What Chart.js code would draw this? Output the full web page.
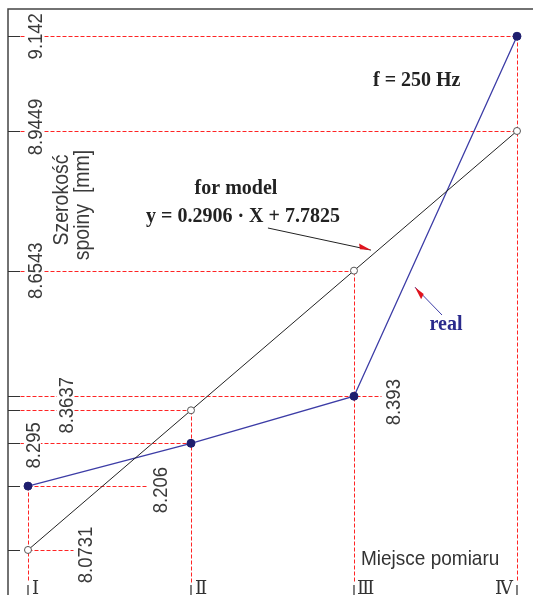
<!DOCTYPE html>
<html>
<head>
<meta charset="utf-8">
<script src="https://cdn.jsdelivr.net/npm/chart.js@4.4.0/dist/chart.umd.min.js"></script>
<style>
  html, body { margin: 0; padding: 0; background: #fff; }
  #wrap { width: 533px; height: 595px; position: relative; }
</style>
</head>
<body>
<div id="wrap"><canvas id="chart" width="533" height="595"></canvas></div>
<script>
// Weld width at four measuring places, f = 250 Hz: real vs model

var categories = ['\u2160', '\u2161', '\u2162', '\u2163'];   // I..IV
var places = [1, 2, 3, 4];
var realValues = [8.206, 8.295, 8.393, 9.142];
var modelValues = [8.0731, 8.3637, 8.6543, 8.9449];
var realLabels = ['8.206', '8.295', '8.393', '9.142'];
var modelLabels = ['8.0731', '8.3637', '8.6543', '8.9449'];

var RED = '#ff2424';
var INK = '#3a3a3a';
var BLUE = '#3c3ca6';
var NAVY = '#1e1e6e';

function pts(vals) {
  return vals.map(function (v, i) { return { x: places[i], y: v }; });
}

// rotated (-90deg) text, baseline at bx, centred on cy
function rotText(ctx, text, bx, cy, size, opts) {
  opts = opts || {};
  var sy = opts.stretch || 1.12;
  ctx.save();
  ctx.translate(bx, cy);
  ctx.rotate(-Math.PI / 2);
  ctx.scale(1, sy);
  ctx.font = size + 'px "Liberation Sans", Arial, sans-serif';
  ctx.textAlign = 'center';
  ctx.textBaseline = 'alphabetic';
  var w = ctx.measureText(text).width;
  if (opts.bg) {
    ctx.fillStyle = '#fff';
    ctx.fillRect(-w / 2 - 2, -size * 0.78, w + 4, size * 0.82);
  }
  ctx.fillStyle = opts.color || INK;
  ctx.fillText(text, 0, 0);
  ctx.restore();
}

function hText(ctx, text, x, y, font, color, align, sy) {
  ctx.save();
  ctx.translate(x, y);
  ctx.scale(1, sy || 1.1);
  ctx.font = font;
  ctx.fillStyle = color;
  ctx.textAlign = align || 'left';
  ctx.textBaseline = 'alphabetic';
  ctx.fillText(text, 0, 0);
  ctx.restore();
}

function dashLine(ctx, x1, y1, x2, y2) {
  ctx.save();
  ctx.strokeStyle = RED;
  ctx.lineWidth = 1;
  ctx.setLineDash([4, 2]);
  ctx.beginPath();
  ctx.moveTo(Math.round(x1) + 0.5, Math.round(y1) + 0.5);
  ctx.lineTo(Math.round(x2) + 0.5, Math.round(y2) + 0.5);
  ctx.stroke();
  ctx.restore();
}

function arrow(ctx, x1, y1, x2, y2, lineColor) {
  ctx.save();
  ctx.strokeStyle = lineColor;
  ctx.lineWidth = 1;
  ctx.beginPath();
  ctx.moveTo(x1, y1);
  ctx.lineTo(x2, y2);
  ctx.stroke();
  var a = Math.atan2(y2 - y1, x2 - x1);
  ctx.translate(x2, y2);
  ctx.rotate(a);
  ctx.fillStyle = '#e0141e';
  ctx.beginPath();
  ctx.moveTo(0, 0);
  ctx.lineTo(-13, -4);
  ctx.lineTo(-11, 1.5);
  ctx.closePath();
  ctx.fill();
  ctx.restore();
}

var framePlugin = {
  id: 'weldFrame',
  beforeDatasetsDraw: function (chart) {
    var ctx = chart.ctx;
    var xs = chart.scales.x, ys = chart.scales.y;
    var area = chart.chartArea;
    var ax = area.left;
    var tickEnd = ax + 12;
    var bottom = chart.height;

    // frame: left axis and top line
    ctx.save();
    ctx.strokeStyle = '#444';
    ctx.lineWidth = 1.5;
    ctx.beginPath();
    ctx.moveTo(ax, bottom);
    ctx.lineTo(ax, area.top);
    ctx.lineTo(chart.width, area.top);
    ctx.stroke();
    ctx.restore();

    var px = places.map(function (p) { return xs.getPixelForValue(p); });
    var py = function (v) { return ys.getPixelForValue(v); };

    // left ticks for every labelled level
    ctx.save();
    ctx.strokeStyle = '#333';
    ctx.lineWidth = 1;
    realValues.concat(modelValues).forEach(function (v) {
      var y = Math.round(py(v)) + 0.5;
      ctx.beginPath();
      ctx.moveTo(ax, y);
      ctx.lineTo(tickEnd, y);
      ctx.stroke();
    });
    ctx.restore();

    // vertical reference lines down to the place ticks
    places.forEach(function (p, i) {
      var top = Math.min(py(realValues[i]), py(modelValues[i]));
      dashLine(ctx, px[i], top, px[i], bottom - 13);
      ctx.save();
      ctx.strokeStyle = '#555';
      ctx.lineWidth = 1.5;
      ctx.beginPath();
      ctx.moveTo(px[i], bottom - 10);
      ctx.lineTo(px[i], bottom);
      ctx.stroke();
      ctx.restore();
    });

    // horizontal reference lines
    var fs = 18.5;
    var lblW = fs * 0.75 * 1.12;
    // model I and real I: from point to their label
    var bx0 = px[0] + 64, bx1 = px[0] + 139;
    dashLine(ctx, px[0], py(modelValues[0]), bx0 - lblW - 3, py(modelValues[0]));
    dashLine(ctx, px[0], py(realValues[0]), bx1 - lblW - 3, py(realValues[0]));
    // real III: from axis past the point to its label
    var bx3 = px[2] + 46;
    dashLine(ctx, tickEnd, py(realValues[2]), bx3 - lblW - 3, py(realValues[2]));
    // the rest: from axis to the point
    dashLine(ctx, tickEnd, py(realValues[1]), px[1], py(realValues[1]));
    dashLine(ctx, tickEnd, py(realValues[3]), px[3], py(realValues[3]));
    dashLine(ctx, tickEnd, py(modelValues[1]), px[1], py(modelValues[1]));
    dashLine(ctx, tickEnd, py(modelValues[2]), px[2], py(modelValues[2]));
    dashLine(ctx, tickEnd, py(modelValues[3]), px[3], py(modelValues[3]));

    // value labels (white backing hides the dashed lines)
    var o = { bg: true };
    rotText(ctx, realLabels[3], ax + 34, py(realValues[3]), fs, o);
    rotText(ctx, modelLabels[3], ax + 34, py(modelValues[3]) - 4, fs, o);
    rotText(ctx, modelLabels[2], ax + 34, py(modelValues[2]), fs, o);
    rotText(ctx, modelLabels[1], ax + 65, py(modelValues[1]) - 5, fs, o);
    rotText(ctx, realLabels[1], ax + 32, py(realValues[1]) + 2, fs, o);
    rotText(ctx, realLabels[0], bx1, py(realValues[0]) + 4, fs, o);
    rotText(ctx, modelLabels[0], bx0, py(modelValues[0]) + 5, fs, o);
    rotText(ctx, realLabels[2], bx3, py(realValues[2]) + 6, fs, o);

    // axis titles
    rotText(ctx, 'Szeroko\u015b\u0107', ax + 60, 200, 19.5, {});
    rotText(ctx, 'spoiny  [mm]', ax + 81, 205, 19.5, {});
    hText(ctx, 'Miejsce pomiaru', 361, 565, '19px "Liberation Sans", Arial, sans-serif', '#333', 'left', 1.1);

    // place numerals
    var nf = '18px "DejaVu Serif", "Liberation Serif", serif';
    hText(ctx, categories[0], px[0] + 4, bottom - 1, nf, '#333', 'left', 1.05);
    hText(ctx, categories[1], px[1] + 4, bottom - 1, nf, '#333', 'left', 1.05);
    hText(ctx, categories[2], px[2] + 3, bottom - 1, nf, '#333', 'left', 1.05);
    hText(ctx, categories[3], px[3] - 4, bottom - 1, nf, '#333', 'right', 1.05);
  },
  afterDatasetsDraw: function (chart) {
    var ctx = chart.ctx;
    var xs = chart.scales.x, ys = chart.scales.y;
    var bf = 'bold 20px "Liberation Serif", "Times New Roman", serif';

    hText(ctx, 'f = 250 Hz', 373, 86, bf, '#222', 'left', 1.1);
    hText(ctx, 'for model', 236, 194, bf, '#222', 'center', 1.1);
    hText(ctx, 'y = 0.2906 \u00b7 X + 7.7825', 243, 222, bf, '#222', 'center', 1.1);
    hText(ctx, 'real', 446, 330, bf, '#2a2a8c', 'center', 1.1);

    // arrows anchored in data space
    arrow(ctx, xs.getPixelForValue(2.472), ys.getPixelForValue(8.743),
      xs.getPixelForValue(3.104), ys.getPixelForValue(8.697), '#222');
    arrow(ctx, xs.getPixelForValue(3.540), ys.getPixelForValue(8.562),
      xs.getPixelForValue(3.374), ys.getPixelForValue(8.620), BLUE);
  }
};

new Chart(document.getElementById('chart').getContext('2d'), {
  type: 'line',
  data: {
    datasets: [
      {
        label: 'model',
        data: pts(modelValues),
        borderColor: '#222',
        borderWidth: 1,
        pointRadius: 3.5,
        pointBackgroundColor: '#fff',
        pointBorderColor: '#555',
        pointBorderWidth: 1,
        tension: 0
      },
      {
        label: 'real',
        data: pts(realValues),
        borderColor: BLUE,
        borderWidth: 1.3,
        pointRadius: 4,
        pointBackgroundColor: NAVY,
        pointBorderColor: NAVY,
        pointBorderWidth: 1,
        tension: 0
      }
    ]
  },
  options: {
    responsive: false,
    animation: false,
    layout: { autoPadding: false, padding: { left: 8, top: 9, right: 0, bottom: 0 } },
    scales: {
      x: { type: 'linear', display: false, min: 0.8773, max: 4.0982 },
      y: { type: 'linear', display: false, min: 7.9794, max: 9.1987 }
    },
    plugins: {
      legend: { display: false },
      tooltip: { enabled: false }
    }
  },
  plugins: [framePlugin]
});
</script>
</body>
</html>
